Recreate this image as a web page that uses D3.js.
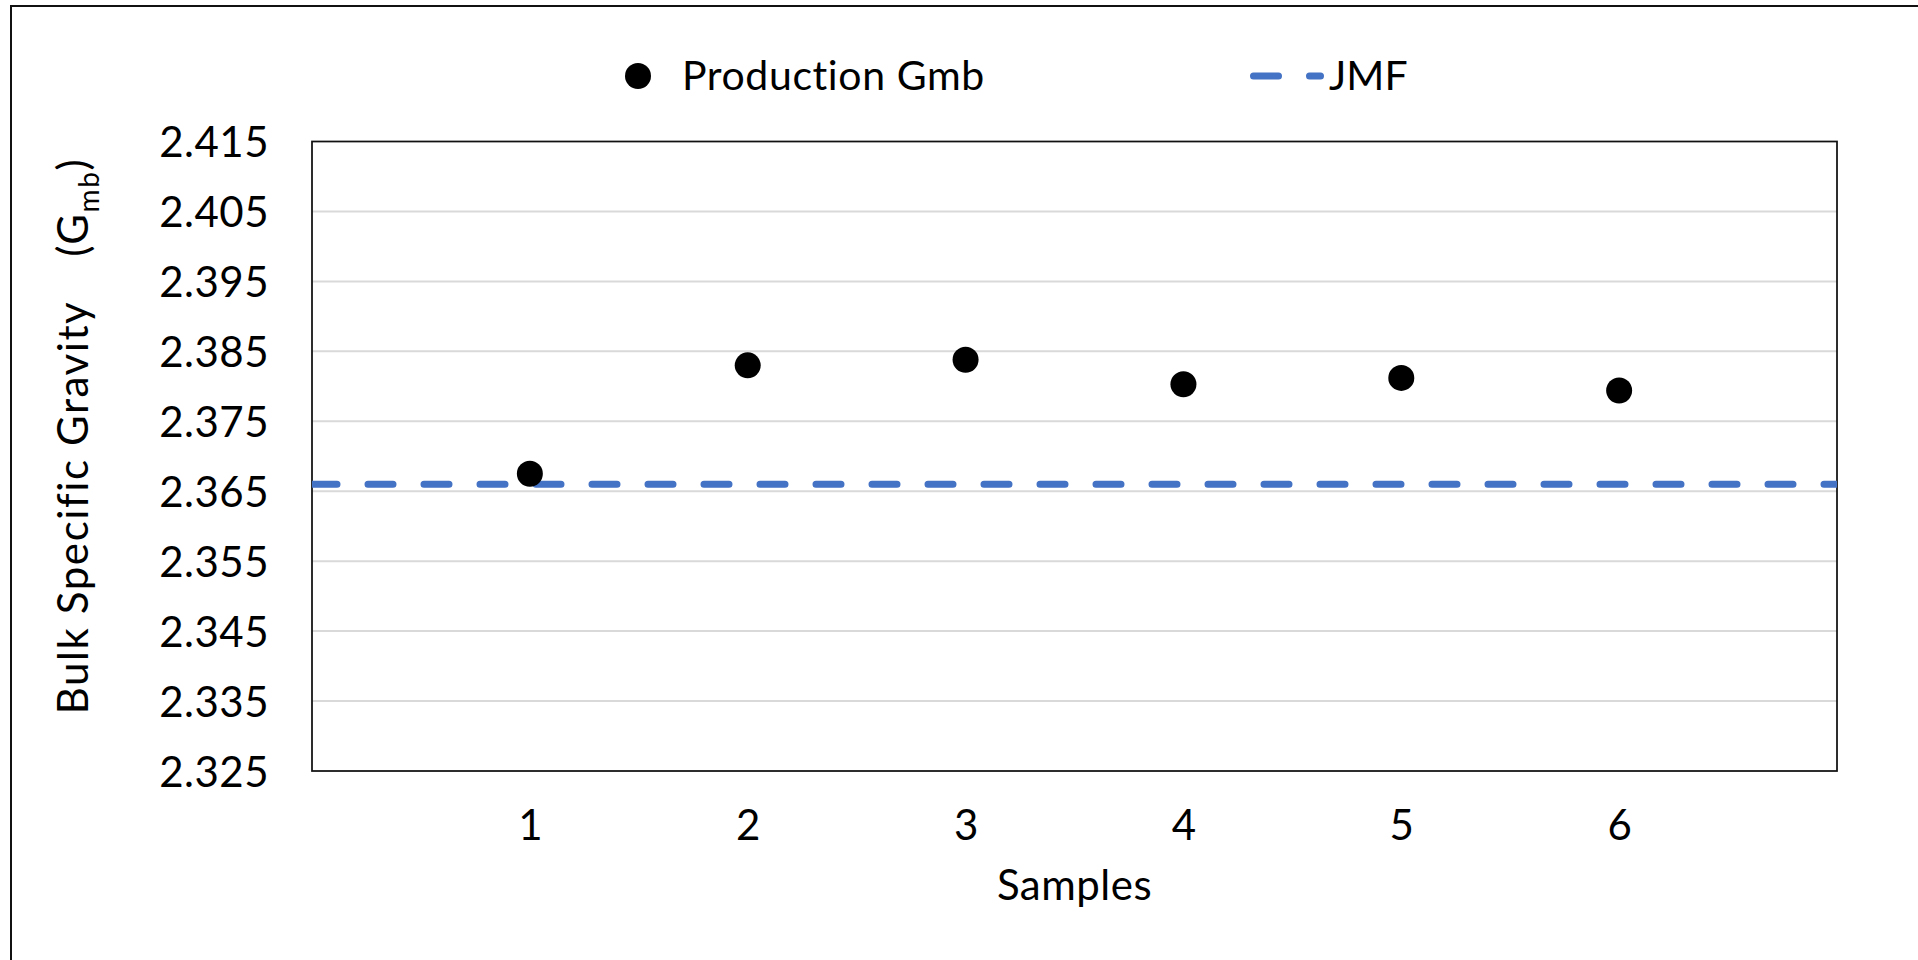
<!DOCTYPE html>
<html>
<head>
<meta charset="utf-8">
<script src="https://cdn.jsdelivr.net/npm/d3@7"></script>
<style>
  body { margin: 0; background: #fff; }
  svg { display: block; font-family: Lato, "Open Sans", sans-serif; }
</style>
</head>
<body>
<div id="chart"></div>
<script>
// data
const samples = [1, 2, 3, 4, 5, 6];
const productionGmb = [2.3675, 2.383, 2.3838, 2.3803, 2.3812, 2.3794];
const jmfValue = 2.366;
const yTicks = [2.325, 2.335, 2.345, 2.355, 2.365, 2.375, 2.385, 2.395, 2.405, 2.415];
const legendLabels = ['Production Gmb', 'JMF'];

const width = 1918;
const height = 960;
const plot = { left: 312, right: 1837, top: 141.5, bottom: 771 };
const blue = '#4472c4';

const svg = d3.select('#chart')
  .append('svg')
  .attr('width', width)
  .attr('height', height);

svg.append('rect')
  .attr('width', width)
  .attr('height', height)
  .attr('fill', '#fff');

// outer chart frame (right / bottom edges fall outside the window)
svg.append('rect')
  .attr('x', 11)
  .attr('y', 6)
  .attr('width', width + 20)
  .attr('height', height + 20)
  .attr('fill', 'none')
  .attr('stroke', '#111')
  .attr('stroke-width', 2);

const x = d3.scaleLinear()
  .domain([0, 7])
  .range([plot.left, plot.right]);

const y = d3.scaleLinear()
  .domain([2.325, 2.415])
  .range([plot.bottom, plot.top]);

svg.append('defs').append('clipPath')
  .attr('id', 'plot-clip')
  .append('rect')
  .attr('x', plot.left)
  .attr('y', plot.top)
  .attr('width', plot.right - plot.left)
  .attr('height', plot.bottom - plot.top);

// gridlines
svg.append('g')
  .selectAll('line')
  .data(yTicks.slice(1, -1))
  .enter()
  .append('line')
  .attr('x1', plot.left)
  .attr('x2', plot.right)
  .attr('y1', d => y(d))
  .attr('y2', d => y(d))
  .attr('stroke', '#d9d9d9')
  .attr('stroke-width', 2);

// y axis labels
const yAxis = svg.append('g')
  .attr('transform', `translate(${plot.left},0)`)
  .call(d3.axisLeft(y)
    .tickValues(yTicks)
    .tickSize(0)
    .tickPadding(43)
    .tickFormat(d3.format('.3f')));
yAxis.select('.domain').remove();
yAxis.selectAll('text')
  .attr('dy', '0.36em')
  .attr('fill', '#000')
  .style('font-family', 'Lato, sans-serif')
  .style('font-size', '42px')
  .style('letter-spacing', '0.5px');

// x axis labels
const xAxis = svg.append('g')
  .attr('transform', `translate(0,${plot.bottom})`)
  .call(d3.axisBottom(x)
    .tickValues(samples)
    .tickSize(0)
    .tickFormat(d3.format('d')));
xAxis.select('.domain').remove();
xAxis.selectAll('text')
  .attr('y', 69)
  .attr('dy', '0')
  .attr('fill', '#000')
  .style('font-family', 'Lato, sans-serif')
  .style('font-size', '42px');

// plot border
svg.append('rect')
  .attr('x', plot.left)
  .attr('y', plot.top)
  .attr('width', plot.right - plot.left)
  .attr('height', plot.bottom - plot.top)
  .attr('fill', 'none')
  .attr('stroke', '#111')
  .attr('stroke-width', 1.75);

// JMF line
svg.append('line')
  .attr('clip-path', 'url(#plot-clip)')
  .attr('x1', plot.left)
  .attr('x2', plot.right + 10)
  .attr('y1', y(jmfValue))
  .attr('y2', y(jmfValue))
  .attr('stroke', blue)
  .attr('stroke-width', 7)
  .attr('stroke-linecap', 'round')
  .attr('stroke-dasharray', '25,31');

// production points
svg.append('g')
  .selectAll('circle')
  .data(samples)
  .enter()
  .append('circle')
  .attr('cx', d => x(d))
  .attr('cy', (d, i) => y(productionGmb[i]))
  .attr('r', 13)
  .attr('fill', '#000');

// axis titles
svg.append('text')
  .attr('x', x(3.5))
  .attr('y', 900)
  .attr('text-anchor', 'middle')
  .style('font-size', '42px')
  .style('letter-spacing', '0.5px')
  .text('Samples');

const yTitle = svg.append('text')
  .attr('transform', 'translate(88,436) rotate(-90)')
  .attr('text-anchor', 'middle')
  .style('font-size', '42px')
  .style('letter-spacing', '1.6px');
yTitle.append('tspan').text('Bulk Specific Gravity');
yTitle.append('tspan').attr('dx', 44).text('(G');
yTitle.append('tspan').attr('dy', 11).style('font-size', '28px').text('mb');
yTitle.append('tspan').attr('dy', -11).text(')');

// legend
const legend = svg.append('g');
legend.append('circle')
  .attr('cx', 638)
  .attr('cy', 76)
  .attr('r', 13)
  .attr('fill', '#000');
legend.append('text')
  .attr('x', 682)
  .attr('y', 90)
  .style('font-size', '41px')
  .style('letter-spacing', '0.6px')
  .text(legendLabels[0]);
legend.append('line')
  .attr('x1', 1253.5)
  .attr('x2', 1320.5)
  .attr('y1', 76)
  .attr('y2', 76)
  .attr('stroke', blue)
  .attr('stroke-width', 7)
  .attr('stroke-linecap', 'round')
  .attr('stroke-dasharray', '25,31');
legend.append('text')
  .attr('x', 1329)
  .attr('y', 90)
  .style('font-size', '41px')
  .text(legendLabels[1]);
</script>
</body>
</html>
